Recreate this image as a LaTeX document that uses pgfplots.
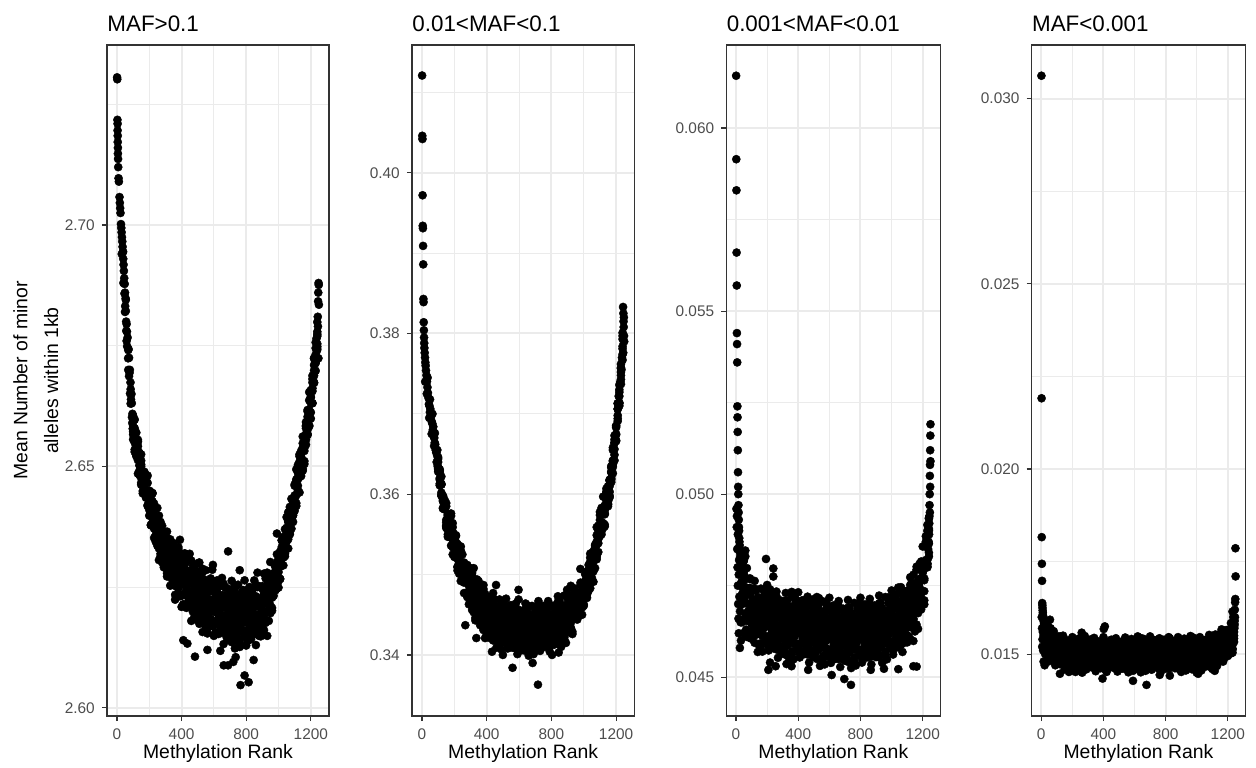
\documentclass[border=0pt]{standalone}
\usepackage{fontspec}
\setmainfont{Liberation Sans}
\usepackage{pgfplots}
\usepackage{pgfplotstable}
\pgfplotsset{compat=1.18}
\definecolor{gg92}{HTML}{EBEBEB}
\definecolor{gg20}{HTML}{333333}
\definecolor{gg30}{HTML}{4D4D4D}

% ---------------- Panel 1: MAF>0.1 ----------------
\pgfplotstableread{
x a b c d e
100 2.6605 2.6566 2.6578 2.6584 2.6572
110 2.6597 2.6530 2.6579 2.6549 2.6567
120 2.6548 2.6521 2.6532 2.6556 2.6524
130 2.6542 2.6485 2.6555 2.6521 2.6533
140 2.6517 2.6502 2.6482 2.6516 2.6502
150 2.6525 2.6466 2.6504 2.6476 2.6512
160 2.6481 2.6444 2.6473 2.6479 2.6467
170 2.6481 2.6456 2.6489 2.6477 2.6467
180 2.6481 2.6435 2.6437 2.6445 2.6469
190 2.6481 2.6418 2.6442 2.6448 2.6420
200 2.6437 2.6398 2.6450 2.6426 2.6438
210 2.6447 2.6416 2.6379 2.6439 2.6409
220 2.6445 2.6383 2.6414 2.6384 2.6428
230 2.6408 2.6352 2.6374 2.6393 2.6371
240 2.6382 2.6350 2.6413 2.6388 2.6377
250 2.6414 2.6357 2.6336 2.6352 2.6383
260 2.6380 2.6306 2.6376 2.6374 2.6330
270 2.6362 2.6314 2.6343 2.6341 2.6368
280 2.6377 2.6324 2.6348 2.6346 2.6326
290 2.6339 2.6291 2.6307 2.6307 2.6338
300 2.6357 2.6304 2.6320 2.6329 2.6312
310 2.6365 2.6272 2.6340 2.6299 2.6323
320 2.6318 2.6281 2.6296 2.6329 2.6285
330 2.6331 2.6253 2.6349 2.6302 2.6319
340 2.6315 2.6294 2.6267 2.6314 2.6295
350 2.6341 2.6259 2.6312 2.6273 2.6323
360 2.6294 2.6224 2.6279 2.6290 2.6268
370 2.6314 2.6268 2.6330 2.6308 2.6289
380 2.6333 2.6247 2.6250 2.6265 2.6310
390 2.6348 2.6231 2.6275 2.6286 2.6234
400 2.6284 2.6209 2.6308 2.6263 2.6285
410 2.6308 2.6265 2.6214 2.6297 2.6256
420 2.6320 2.6235 2.6278 2.6237 2.6297
430 2.6285 2.6207 2.6237 2.6264 2.6234
440 2.6263 2.6219 2.6305 2.6271 2.6256
450 2.6319 2.6241 2.6212 2.6234 2.6276
460 2.6281 2.6180 2.6275 2.6272 2.6212
470 2.6264 2.6199 2.6238 2.6235 2.6272
480 2.6292 2.6220 2.6253 2.6250 2.6223
490 2.6248 2.6183 2.6205 2.6205 2.6247
500 2.6282 2.6209 2.6231 2.6243 2.6220
510 2.6301 2.6174 2.6267 2.6211 2.6244
520 2.6241 2.6191 2.6211 2.6256 2.6196
530 2.6263 2.6157 2.6288 2.6224 2.6247
540 2.6246 2.6217 2.6180 2.6244 2.6218
550 2.6285 2.6173 2.6245 2.6193 2.6261
560 2.6224 2.6154 2.6209 2.6220 2.6198
570 2.6247 2.6201 2.6263 2.6241 2.6222
580 2.6268 2.6182 2.6185 2.6200 2.6245
590 2.6286 2.6169 2.6213 2.6224 2.6172
600 2.6224 2.6149 2.6248 2.6203 2.6225
610 2.6250 2.6207 2.6156 2.6239 2.6198
620 2.6264 2.6179 2.6222 2.6181 2.6241
630 2.6231 2.6153 2.6183 2.6210 2.6180
640 2.6211 2.6167 2.6253 2.6219 2.6204
650 2.6269 2.6191 2.6162 2.6184 2.6226
660 2.6233 2.6132 2.6227 2.6224 2.6164
670 2.6218 2.6153 2.6192 2.6189 2.6226
680 2.6248 2.6176 2.6209 2.6206 2.6179
690 2.6206 2.6141 2.6163 2.6163 2.6205
700 2.6242 2.6169 2.6191 2.6203 2.6180
710 2.6263 2.6136 2.6229 2.6173 2.6206
720 2.6205 2.6155 2.6175 2.6220 2.6160
730 2.6229 2.6123 2.6254 2.6190 2.6213
740 2.6214 2.6185 2.6148 2.6212 2.6186
750 2.6255 2.6143 2.6216 2.6163 2.6231
760 2.6196 2.6126 2.6181 2.6192 2.6170
770 2.6221 2.6175 2.6237 2.6215 2.6196
780 2.6244 2.6158 2.6161 2.6176 2.6221
790 2.6264 2.6147 2.6191 2.6202 2.6150
800 2.6204 2.6129 2.6228 2.6183 2.6205
810 2.6233 2.6190 2.6139 2.6222 2.6181
820 2.6250 2.6165 2.6208 2.6167 2.6227
830 2.6220 2.6142 2.6172 2.6199 2.6169
840 2.6203 2.6159 2.6245 2.6211 2.6196
850 2.6264 2.6186 2.6157 2.6179 2.6221
860 2.6231 2.6130 2.6225 2.6222 2.6162
870 2.6219 2.6154 2.6193 2.6190 2.6227
880 2.6252 2.6180 2.6213 2.6210 2.6183
890 2.6213 2.6148 2.6170 2.6170 2.6212
900 2.6252 2.6179 2.6201 2.6213 2.6190
910 2.6278 2.6152 2.6244 2.6188 2.6221
920 2.6226 2.6176 2.6196 2.6241 2.6181
930 2.6255 2.6149 2.6280 2.6216 2.6239
940 2.6246 2.6217 2.6180 2.6244 2.6218
950 2.6267 2.6200 2.6244 2.6212 2.6253
960 2.6243 2.6201 2.6234 2.6241 2.6228
970 2.6270 2.6242 2.6279 2.6266 2.6254
980 2.6295 2.6243 2.6245 2.6254 2.6281
990 2.6318 2.6247 2.6274 2.6281 2.6249
1000 2.6293 2.6249 2.6308 2.6281 2.6294
1010 2.6324 2.6298 2.6267 2.6317 2.6292
1020 2.6347 2.6296 2.6322 2.6297 2.6333
1030 2.6342 2.6295 2.6313 2.6329 2.6311
1040 2.6345 2.6319 2.6370 2.6350 2.6341
1050 2.6395 2.6348 2.6330 2.6344 2.6369
1060 2.6390 2.6330 2.6387 2.6385 2.6349
1070 2.6398 2.6359 2.6382 2.6380 2.6403
1080 2.6433 2.6390 2.6410 2.6408 2.6392
1090 2.6424 2.6385 2.6399 2.6399 2.6424
1100 2.6463 2.6419 2.6433 2.6440 2.6426
1110 2.6494 2.6418 2.6473 2.6440 2.6460
1120 2.6477 2.6448 2.6460 2.6487 2.6451
1130 2.6510 2.6446 2.6525 2.6487 2.6500
1140 2.6520 2.6502 2.6480 2.6518 2.6503
1150 2.6562 2.6495 2.6539 2.6507 2.6548
1160 2.6547 2.6505 2.6538 2.6545 2.6532
1170 2.6583 2.6555 2.6592 2.6579 2.6567
1180 2.6617 2.6565 2.6567 2.6576 2.6603
1190 2.6654 2.6583 2.6610 2.6617 2.6585
1200 2.6643 2.6599 2.6658 2.6631 2.6644
1210 2.6688 2.6662 2.6631 2.6681 2.6656
1220 2.6724 2.6673 2.6699 2.6674 2.6710
1230 2.6745 2.6698 2.6716 2.6732 2.6714
1240 2.6774 2.6748 2.6799 2.6779 2.6770
}\pOne
\pgfplotstableread{
x f g
100 2.6602 2.6556
110 2.6535 2.6575
120 2.6544 2.6570
130 2.6551 2.6513
140 2.6492 2.6528
150 2.6500 2.6462
160 2.6449 2.6483
170 2.6483 2.6447
180 2.6451 2.6479
190 2.6466 2.6436
200 2.6410 2.6446
210 2.6431 2.6378
220 2.6444 2.6400
230 2.6379 2.6423
240 2.6344 2.6358
250 2.6388 2.6374
260 2.6340 2.6398
270 2.6385 2.6319
280 2.6301 2.6354
290 2.6349 2.6326
300 2.6353 2.6290
310 2.6279 2.6334
320 2.6313 2.6349
330 2.6344 2.6291
340 2.6281 2.6330
350 2.6306 2.6254
360 2.6234 2.6298
370 2.6319 2.6251
380 2.6276 2.6329
390 2.6320 2.6264
400 2.6232 2.6300
410 2.6286 2.6214
420 2.6319 2.6259
430 2.6245 2.6305
440 2.6211 2.6230
450 2.6283 2.6264
460 2.6226 2.6305
470 2.6295 2.6205
480 2.6189 2.6261
490 2.6262 2.6231
500 2.6276 2.6190
510 2.6184 2.6259
520 2.6234 2.6283
530 2.6281 2.6209
540 2.6199 2.6266
550 2.6238 2.6167
560 2.6164 2.6228
570 2.6252 2.6184
580 2.6211 2.6264
590 2.6258 2.6202
600 2.6172 2.6240
610 2.6228 2.6156
620 2.6263 2.6203
630 2.6191 2.6251
640 2.6159 2.6178
650 2.6233 2.6214
660 2.6178 2.6257
670 2.6249 2.6159
680 2.6145 2.6217
690 2.6220 2.6189
700 2.6236 2.6150
710 2.6146 2.6221
720 2.6198 2.6247
730 2.6247 2.6175
740 2.6167 2.6234
750 2.6208 2.6137
760 2.6136 2.6200
770 2.6226 2.6158
780 2.6187 2.6240
790 2.6236 2.6180
800 2.6152 2.6220
810 2.6211 2.6139
820 2.6249 2.6189
830 2.6180 2.6240
840 2.6151 2.6170
850 2.6228 2.6209
860 2.6176 2.6255
870 2.6250 2.6160
880 2.6149 2.6221
890 2.6227 2.6196
900 2.6246 2.6160
910 2.6161 2.6236
920 2.6219 2.6268
930 2.6273 2.6201
940 2.6199 2.6266
950 2.6239 2.6196
960 2.6207 2.6246
970 2.6272 2.6232
980 2.6261 2.6292
990 2.6301 2.6267
1000 2.6262 2.6303
1010 2.6310 2.6267
1020 2.6347 2.6311
1030 2.6318 2.6354
1040 2.6314 2.6325
1050 2.6373 2.6362
1060 2.6357 2.6405
1070 2.6416 2.6362
1080 2.6371 2.6414
1090 2.6433 2.6414
1100 2.6460 2.6408
1110 2.6424 2.6469
1120 2.6473 2.6503
1130 2.6521 2.6478
1140 2.6491 2.6532
1150 2.6534 2.6491
1160 2.6511 2.6550
1170 2.6585 2.6545
1180 2.6583 2.6614
1190 2.6637 2.6603
1200 2.6612 2.6653
1210 2.6674 2.6631
1220 2.6724 2.6688
1230 2.6721 2.6757
1240 2.6743 2.6754
}\pOneB
\pgfplotstableread{
x y
1 2.7306
2 2.7302
3 2.7218
4 2.7210
4 2.7196
5 2.7185
5 2.7172
6 2.7160
6 2.7148
7 2.7137
8 2.7120
10 2.7097
12 2.7090
16 2.7058
18 2.7046
20 2.7035
22 2.7025
25 2.7002
27 2.6994
29 2.6985
31 2.6975
33 2.6966
35 2.6955
37 2.6944
39 2.6930
41 2.6918
43 2.6905
45 2.6890
48 2.6878
51 2.6832
54 2.6848
57 2.6800
60 2.6795
63 2.6749
66 2.6767
69 2.6724
72 2.6743
75 2.6687
78 2.6694
81 2.6651
84 2.6674
87 2.6639
90 2.6650
93 2.6602
96 2.6609
50 2.6860
55 2.6822
62 2.6779
70 2.6741
80 2.6700
92 2.6631
98 2.6578
47 2.6858
58 2.6781
85 2.6660
30 2.6940
40 2.6880
50 2.6820
60 2.6760
70 2.6700
85 2.6630
95 2.6590
38 2.6945
55 2.6845
75 2.6725
1235 2.6765
1238 2.6740
1243 2.6810
1244 2.6790
1245 2.6842
1246 2.6860
1247 2.6724
1248 2.6880
1249 2.6876
1250 2.6835
688 2.6324
765 2.6047
815 2.6053
790 2.6067
688 2.6088
483 2.6106
411 2.6140
436 2.6133
446 2.6310
594 2.6296
990 2.6361
949 2.6302
846 2.6099
661 2.6088
720 2.6095
735 2.6105
560 2.6120
640 2.6118
760 2.6285
870 2.6280
505 2.6300
}\pOneX

% ---------------- Panel 2: 0.01<MAF<0.1 ----------------
\pgfplotstableread{
x a b c d e
100 0.3640 0.3631 0.3646 0.3628 0.3632
110 0.3631 0.3613 0.3611 0.3620 0.3627
120 0.3622 0.3598 0.3612 0.3612 0.3602
130 0.3597 0.3582 0.3592 0.3591 0.3594
140 0.3590 0.3582 0.3591 0.3584 0.3587
150 0.3589 0.3561 0.3560 0.3568 0.3558
160 0.3573 0.3547 0.3565 0.3575 0.3574
170 0.3561 0.3547 0.3572 0.3550 0.3553
180 0.3576 0.3550 0.3536 0.3555 0.3557
190 0.3559 0.3525 0.3553 0.3553 0.3543
200 0.3546 0.3524 0.3532 0.3534 0.3544
210 0.3549 0.3525 0.3548 0.3540 0.3521
220 0.3527 0.3505 0.3510 0.3520 0.3530
230 0.3533 0.3508 0.3526 0.3520 0.3515
240 0.3535 0.3492 0.3509 0.3501 0.3525
250 0.3511 0.3494 0.3511 0.3510 0.3500
260 0.3513 0.3477 0.3490 0.3494 0.3502
270 0.3503 0.3493 0.3495 0.3505 0.3506
280 0.3512 0.3474 0.3502 0.3490 0.3477
290 0.3486 0.3463 0.3479 0.3491 0.3490
300 0.3494 0.3472 0.3508 0.3466 0.3475
310 0.3502 0.3462 0.3456 0.3477 0.3493
320 0.3508 0.3453 0.3485 0.3485 0.3462
330 0.3477 0.3443 0.3466 0.3464 0.3471
340 0.3487 0.3467 0.3489 0.3473 0.3479
350 0.3492 0.3452 0.3451 0.3462 0.3448
360 0.3474 0.3437 0.3462 0.3476 0.3474
370 0.3462 0.3442 0.3477 0.3447 0.3450
380 0.3487 0.3450 0.3431 0.3458 0.3460
390 0.3468 0.3421 0.3460 0.3460 0.3446
400 0.3458 0.3428 0.3439 0.3441 0.3455
410 0.3472 0.3439 0.3472 0.3460 0.3433
420 0.3451 0.3421 0.3428 0.3442 0.3456
430 0.3468 0.3434 0.3458 0.3450 0.3442
440 0.3477 0.3418 0.3441 0.3429 0.3463
450 0.3449 0.3426 0.3449 0.3448 0.3434
460 0.3458 0.3409 0.3426 0.3432 0.3444
470 0.3451 0.3437 0.3439 0.3453 0.3455
480 0.3469 0.3417 0.3456 0.3438 0.3421
490 0.3440 0.3407 0.3429 0.3447 0.3445
500 0.3451 0.3429 0.3465 0.3423 0.3432
510 0.3462 0.3422 0.3416 0.3437 0.3453
520 0.3470 0.3415 0.3447 0.3447 0.3424
530 0.3442 0.3408 0.3431 0.3429 0.3436
540 0.3454 0.3434 0.3456 0.3440 0.3446
550 0.3462 0.3422 0.3421 0.3432 0.3418
560 0.3446 0.3409 0.3434 0.3448 0.3446
570 0.3437 0.3417 0.3452 0.3422 0.3425
580 0.3464 0.3427 0.3408 0.3435 0.3437
590 0.3448 0.3401 0.3440 0.3440 0.3426
600 0.3440 0.3410 0.3421 0.3423 0.3437
610 0.3455 0.3422 0.3455 0.3443 0.3416
620 0.3436 0.3406 0.3413 0.3427 0.3441
630 0.3454 0.3420 0.3444 0.3436 0.3429
640 0.3464 0.3405 0.3428 0.3416 0.3450
650 0.3437 0.3414 0.3437 0.3436 0.3422
660 0.3448 0.3399 0.3416 0.3422 0.3434
670 0.3442 0.3428 0.3430 0.3444 0.3446
680 0.3461 0.3409 0.3448 0.3430 0.3413
690 0.3434 0.3401 0.3423 0.3441 0.3439
700 0.3446 0.3424 0.3460 0.3418 0.3427
710 0.3457 0.3417 0.3411 0.3433 0.3448
720 0.3467 0.3412 0.3444 0.3444 0.3421
730 0.3440 0.3405 0.3428 0.3427 0.3434
740 0.3453 0.3433 0.3455 0.3439 0.3445
750 0.3461 0.3422 0.3421 0.3431 0.3417
760 0.3447 0.3410 0.3435 0.3449 0.3447
770 0.3439 0.3418 0.3453 0.3423 0.3427
780 0.3467 0.3430 0.3411 0.3438 0.3440
790 0.3451 0.3404 0.3444 0.3444 0.3430
800 0.3445 0.3415 0.3426 0.3428 0.3442
810 0.3461 0.3428 0.3461 0.3449 0.3422
820 0.3443 0.3413 0.3420 0.3434 0.3448
830 0.3462 0.3428 0.3452 0.3444 0.3437
840 0.3473 0.3414 0.3438 0.3425 0.3459
850 0.3447 0.3424 0.3447 0.3446 0.3432
860 0.3459 0.3410 0.3427 0.3433 0.3445
870 0.3454 0.3440 0.3442 0.3456 0.3458
880 0.3474 0.3422 0.3461 0.3443 0.3426
890 0.3448 0.3415 0.3437 0.3455 0.3453
900 0.3461 0.3439 0.3475 0.3433 0.3442
910 0.3474 0.3434 0.3428 0.3449 0.3465
920 0.3486 0.3431 0.3463 0.3463 0.3440
930 0.3460 0.3426 0.3449 0.3447 0.3454
940 0.3476 0.3456 0.3478 0.3462 0.3468
950 0.3478 0.3450 0.3449 0.3457 0.3447
960 0.3469 0.3444 0.3461 0.3471 0.3470
970 0.3466 0.3452 0.3477 0.3455 0.3458
980 0.3490 0.3464 0.3450 0.3469 0.3471
990 0.3484 0.3450 0.3478 0.3478 0.3468
1000 0.3485 0.3463 0.3472 0.3473 0.3483
1010 0.3501 0.3477 0.3500 0.3492 0.3473
1020 0.3493 0.3471 0.3476 0.3486 0.3496
1030 0.3512 0.3487 0.3505 0.3499 0.3494
1040 0.3526 0.3483 0.3500 0.3492 0.3516
1050 0.3513 0.3496 0.3513 0.3512 0.3502
1060 0.3527 0.3491 0.3504 0.3508 0.3516
1070 0.3534 0.3524 0.3526 0.3536 0.3537
1080 0.3559 0.3522 0.3549 0.3537 0.3524
1090 0.3551 0.3528 0.3544 0.3556 0.3555
1100 0.3568 0.3552 0.3578 0.3548 0.3554
1110 0.3583 0.3554 0.3550 0.3565 0.3576
1120 0.3597 0.3558 0.3581 0.3581 0.3564
1130 0.3585 0.3560 0.3576 0.3575 0.3580
1140 0.3602 0.3588 0.3603 0.3592 0.3596
1150 0.3610 0.3588 0.3587 0.3593 0.3585
1160 0.3617 0.3596 0.3610 0.3618 0.3617
1170 0.3627 0.3615 0.3635 0.3618 0.3620
1180 0.3658 0.3637 0.3626 0.3641 0.3642
1190 0.3668 0.3642 0.3664 0.3664 0.3656
1200 0.3685 0.3667 0.3674 0.3675 0.3683
1210 0.3713 0.3694 0.3713 0.3706 0.3691
1220 0.3727 0.3710 0.3714 0.3722 0.3730
1230 0.3762 0.3743 0.3757 0.3752 0.3748
1240 0.3801 0.3767 0.3781 0.3774 0.3793
}\pTwo
\pgfplotstableread{
x f g
100 0.3633 0.3644
110 0.3629 0.3618
120 0.3599 0.3613
130 0.3598 0.3583
140 0.3593 0.3581
150 0.3565 0.3585
160 0.3550 0.3556
170 0.3569 0.3563
180 0.3546 0.3573
190 0.3564 0.3534
200 0.3522 0.3546
210 0.3540 0.3529
220 0.3538 0.3509
230 0.3501 0.3526
240 0.3513 0.3530
250 0.3525 0.3501
260 0.3492 0.3515
270 0.3501 0.3477
280 0.3472 0.3494
290 0.3496 0.3474
300 0.3478 0.3503
310 0.3498 0.3472
320 0.3456 0.3488
330 0.3480 0.3446
340 0.3494 0.3466
350 0.3458 0.3486
360 0.3441 0.3450
370 0.3473 0.3464
380 0.3445 0.3482
390 0.3476 0.3434
400 0.3425 0.3459
410 0.3460 0.3445
420 0.3466 0.3426
430 0.3423 0.3458
440 0.3447 0.3470
450 0.3469 0.3435
460 0.3430 0.3461
470 0.3448 0.3415
480 0.3414 0.3444
490 0.3454 0.3422
500 0.3435 0.3460
510 0.3458 0.3432
520 0.3418 0.3450
530 0.3445 0.3411
540 0.3461 0.3433
550 0.3428 0.3456
560 0.3413 0.3422
570 0.3448 0.3439
580 0.3422 0.3459
590 0.3456 0.3414
600 0.3407 0.3441
610 0.3443 0.3428
620 0.3451 0.3411
630 0.3409 0.3444
640 0.3434 0.3457
650 0.3457 0.3423
660 0.3420 0.3451
670 0.3439 0.3406
680 0.3406 0.3436
690 0.3448 0.3416
700 0.3430 0.3455
710 0.3454 0.3428
720 0.3415 0.3447
730 0.3443 0.3409
740 0.3460 0.3432
750 0.3428 0.3456
760 0.3414 0.3423
770 0.3450 0.3441
780 0.3425 0.3462
790 0.3460 0.3418
800 0.3412 0.3446
810 0.3449 0.3434
820 0.3458 0.3418
830 0.3417 0.3452
840 0.3443 0.3466
850 0.3467 0.3433
860 0.3431 0.3462
870 0.3451 0.3418
880 0.3419 0.3449
890 0.3462 0.3430
900 0.3445 0.3470
910 0.3470 0.3444
920 0.3434 0.3466
930 0.3463 0.3429
940 0.3483 0.3455
950 0.3454 0.3474
960 0.3446 0.3452
970 0.3474 0.3468
980 0.3460 0.3487
990 0.3489 0.3459
1000 0.3461 0.3485
1010 0.3492 0.3481
1020 0.3504 0.3475
1030 0.3480 0.3505
1040 0.3504 0.3521
1050 0.3527 0.3503
1060 0.3506 0.3529
1070 0.3532 0.3508
1080 0.3519 0.3541
1090 0.3561 0.3539
1100 0.3557 0.3574
1110 0.3580 0.3561
1120 0.3560 0.3583
1130 0.3586 0.3562
1140 0.3607 0.3587
1150 0.3591 0.3607
1160 0.3598 0.3603
1170 0.3633 0.3628
1180 0.3634 0.3655
1190 0.3673 0.3649
1200 0.3666 0.3685
1210 0.3706 0.3698
1220 0.3736 0.3713
1230 0.3737 0.3757
1240 0.3784 0.3797
}\pTwoB
\pgfplotstableread{
x y
1 0.4121
2 0.4046
3 0.4042
4 0.3972
5 0.3934
6 0.3931
7 0.3909
8 0.3886
9 0.3843
10 0.3839
11 0.3814
12 0.3804
13 0.3795
14 0.3788
15 0.3782
17 0.3776
19 0.3770
21 0.3764
23 0.3760
25 0.3754
28 0.3748
31 0.3740
34 0.3733
37 0.3726
40 0.3720
43 0.3712
46 0.3710
49 0.3702
52 0.3706
55 0.3695
58 0.3700
61 0.3690
64 0.3688
67 0.3680
70 0.3684
73 0.3672
76 0.3670
79 0.3664
82 0.3662
85 0.3655
88 0.3652
91 0.3640
94 0.3648
97 0.3635
20 0.3740
30 0.3725
45 0.3695
60 0.3675
75 0.3660
35 0.3745
50 0.3718
65 0.3700
80 0.3676
95 0.3655
1243 0.3833
1245 0.3825
1246 0.3815
1247 0.3808
1248 0.3820
1249 0.3797
1250 0.3790
1244 0.3776
1236 0.3770
1233 0.3755
1226 0.3740
1216 0.3722
458 0.3487
597 0.3481
597 0.3469
650 0.3462
897 0.3481
979 0.3507
717 0.3363
560 0.3384
684 0.3390
804 0.3400
845 0.3403
336 0.3421
268 0.3437
433 0.3404
500 0.3400
}\pTwoX

% ---------------- Panel 3: 0.001<MAF<0.01 ----------------
\pgfplotstableread{
x a b c d e
40 0.04840 0.04716 0.04800 0.04842 0.04806
50 0.04781 0.04711 0.04830 0.04764 0.04818
60 0.04846 0.04721 0.04656 0.04770 0.04674
70 0.04770 0.04610 0.04744 0.04672 0.04744
80 0.04729 0.04624 0.04664 0.04700 0.04682
90 0.04770 0.04655 0.04768 0.04726 0.04744
100 0.04692 0.04605 0.04625 0.04660 0.04645
110 0.04738 0.04641 0.04711 0.04691 0.04676
120 0.04763 0.04594 0.04662 0.04662 0.04702
130 0.04682 0.04616 0.04683 0.04708 0.04618
140 0.04711 0.04569 0.04619 0.04629 0.04699
150 0.04688 0.04649 0.04655 0.04665 0.04635
160 0.04742 0.04593 0.04704 0.04679 0.04669
170 0.04663 0.04570 0.04633 0.04633 0.04638
180 0.04696 0.04634 0.04737 0.04687 0.04672
190 0.04727 0.04612 0.04596 0.04641 0.04611
200 0.04752 0.04596 0.04685 0.04665 0.04680
210 0.04672 0.04573 0.04639 0.04609 0.04644
220 0.04707 0.04650 0.04712 0.04662 0.04702
230 0.04727 0.04614 0.04611 0.04621 0.04621
240 0.04682 0.04579 0.04649 0.04684 0.04654
250 0.04657 0.04599 0.04698 0.04643 0.04688
260 0.04734 0.04630 0.04576 0.04671 0.04591
270 0.04687 0.04553 0.04665 0.04605 0.04665
280 0.04667 0.04580 0.04613 0.04643 0.04628
290 0.04709 0.04613 0.04707 0.04672 0.04687
300 0.04652 0.04565 0.04585 0.04620 0.04605
310 0.04702 0.04605 0.04675 0.04655 0.04640
320 0.04730 0.04561 0.04629 0.04629 0.04669
330 0.04653 0.04587 0.04654 0.04679 0.04589
340 0.04685 0.04543 0.04593 0.04603 0.04673
350 0.04666 0.04627 0.04633 0.04643 0.04613
360 0.04720 0.04571 0.04682 0.04657 0.04647
370 0.04642 0.04549 0.04612 0.04612 0.04617
380 0.04675 0.04613 0.04716 0.04666 0.04651
390 0.04707 0.04592 0.04576 0.04621 0.04591
400 0.04732 0.04576 0.04665 0.04645 0.04660
410 0.04653 0.04554 0.04620 0.04590 0.04625
420 0.04689 0.04632 0.04694 0.04644 0.04684
430 0.04710 0.04597 0.04594 0.04604 0.04604
440 0.04666 0.04563 0.04633 0.04668 0.04638
450 0.04642 0.04584 0.04683 0.04628 0.04673
460 0.04720 0.04616 0.04562 0.04657 0.04577
470 0.04674 0.04540 0.04652 0.04592 0.04652
480 0.04655 0.04568 0.04601 0.04631 0.04616
490 0.04698 0.04602 0.04696 0.04661 0.04676
500 0.04642 0.04555 0.04575 0.04610 0.04595
510 0.04691 0.04594 0.04664 0.04644 0.04629
520 0.04719 0.04550 0.04618 0.04618 0.04658
530 0.04641 0.04575 0.04642 0.04667 0.04577
540 0.04673 0.04531 0.04581 0.04591 0.04661
550 0.04653 0.04614 0.04620 0.04630 0.04600
560 0.04707 0.04558 0.04669 0.04644 0.04634
570 0.04628 0.04535 0.04598 0.04598 0.04603
580 0.04661 0.04599 0.04702 0.04652 0.04637
590 0.04692 0.04577 0.04561 0.04606 0.04576
600 0.04717 0.04561 0.04650 0.04630 0.04645
610 0.04638 0.04539 0.04605 0.04575 0.04610
620 0.04675 0.04618 0.04680 0.04630 0.04670
630 0.04696 0.04583 0.04580 0.04590 0.04590
640 0.04653 0.04550 0.04620 0.04655 0.04625
650 0.04629 0.04571 0.04670 0.04615 0.04660
660 0.04708 0.04604 0.04550 0.04645 0.04565
670 0.04662 0.04528 0.04640 0.04580 0.04640
680 0.04644 0.04557 0.04590 0.04620 0.04605
690 0.04687 0.04591 0.04685 0.04650 0.04665
700 0.04632 0.04545 0.04565 0.04600 0.04585
710 0.04682 0.04585 0.04655 0.04635 0.04620
720 0.04711 0.04542 0.04610 0.04610 0.04650
730 0.04634 0.04568 0.04635 0.04660 0.04570
740 0.04667 0.04525 0.04575 0.04585 0.04655
750 0.04648 0.04609 0.04615 0.04625 0.04595
760 0.04703 0.04554 0.04665 0.04640 0.04630
770 0.04625 0.04532 0.04595 0.04595 0.04600
780 0.04659 0.04597 0.04700 0.04650 0.04635
790 0.04691 0.04576 0.04560 0.04605 0.04575
800 0.04717 0.04561 0.04650 0.04630 0.04645
810 0.04639 0.04540 0.04606 0.04576 0.04611
820 0.04677 0.04620 0.04682 0.04632 0.04672
830 0.04699 0.04586 0.04583 0.04593 0.04593
840 0.04657 0.04554 0.04624 0.04659 0.04629
850 0.04634 0.04576 0.04675 0.04620 0.04665
860 0.04714 0.04610 0.04556 0.04651 0.04571
870 0.04669 0.04535 0.04647 0.04587 0.04647
880 0.04652 0.04565 0.04598 0.04628 0.04613
890 0.04696 0.04600 0.04694 0.04659 0.04674
900 0.04642 0.04555 0.04575 0.04610 0.04595
910 0.04693 0.04596 0.04666 0.04646 0.04631
920 0.04723 0.04554 0.04622 0.04622 0.04662
930 0.04647 0.04581 0.04648 0.04673 0.04583
940 0.04681 0.04539 0.04589 0.04599 0.04669
950 0.04663 0.04624 0.04630 0.04640 0.04610
960 0.04719 0.04570 0.04681 0.04656 0.04646
970 0.04642 0.04549 0.04612 0.04612 0.04617
980 0.04677 0.04615 0.04718 0.04668 0.04653
990 0.04710 0.04595 0.04579 0.04624 0.04594
1000 0.04737 0.04581 0.04670 0.04650 0.04665
1010 0.04661 0.04562 0.04628 0.04598 0.04633
1020 0.04701 0.04644 0.04706 0.04656 0.04696
1030 0.04725 0.04612 0.04609 0.04619 0.04619
1040 0.04685 0.04582 0.04652 0.04687 0.04657
1050 0.04664 0.04606 0.04705 0.04650 0.04695
1060 0.04746 0.04642 0.04588 0.04683 0.04603
1070 0.04703 0.04569 0.04681 0.04621 0.04681
1080 0.04688 0.04601 0.04634 0.04664 0.04649
1090 0.04734 0.04638 0.04732 0.04697 0.04712
1100 0.04682 0.04595 0.04615 0.04650 0.04635
1110 0.04738 0.04641 0.04711 0.04691 0.04676
1120 0.04773 0.04604 0.04672 0.04672 0.04712
1130 0.04702 0.04636 0.04703 0.04728 0.04638
1140 0.04741 0.04599 0.04649 0.04659 0.04729
1150 0.04728 0.04689 0.04695 0.04705 0.04675
1160 0.04793 0.04644 0.04755 0.04730 0.04720
1170 0.04725 0.04632 0.04695 0.04695 0.04700
1180 0.04769 0.04707 0.04810 0.04760 0.04745
1190 0.04816 0.04701 0.04685 0.04730 0.04700
1200 0.04857 0.04701 0.04790 0.04770 0.04785
1210 0.04798 0.04699 0.04765 0.04735 0.04770
1220 0.04865 0.04808 0.04870 0.04820 0.04860
1230 0.04916 0.04803 0.04800 0.04810 0.04810
1240 0.04933 0.04830 0.04900 0.04935 0.04905
}\pThree
\pgfplotstableread{
x f g
40 0.04728 0.04758
50 0.04818 0.04788
60 0.04704 0.04830
70 0.04798 0.04654
80 0.04616 0.04730
90 0.04726 0.04678
100 0.04735 0.04620
110 0.04611 0.04711
120 0.04677 0.04742
130 0.04738 0.04643
140 0.04629 0.04719
150 0.04680 0.04585
160 0.04584 0.04669
170 0.04703 0.04613
180 0.04652 0.04722
190 0.04716 0.04641
200 0.04605 0.04695
210 0.04679 0.04584
220 0.04727 0.04647
230 0.04631 0.04711
240 0.04589 0.04614
250 0.04688 0.04663
260 0.04616 0.04721
270 0.04710 0.04590
280 0.04573 0.04668
290 0.04672 0.04632
300 0.04695 0.04580
310 0.04575 0.04675
320 0.04644 0.04709
330 0.04709 0.04614
340 0.04603 0.04693
350 0.04658 0.04563
360 0.04562 0.04647
370 0.04682 0.04592
380 0.04631 0.04701
390 0.04696 0.04621
400 0.04585 0.04675
410 0.04660 0.04565
420 0.04709 0.04629
430 0.04614 0.04694
440 0.04573 0.04598
450 0.04673 0.04648
460 0.04602 0.04707
470 0.04697 0.04577
480 0.04561 0.04656
490 0.04661 0.04621
500 0.04685 0.04570
510 0.04564 0.04664
520 0.04633 0.04698
530 0.04697 0.04602
540 0.04591 0.04681
550 0.04645 0.04550
560 0.04549 0.04634
570 0.04668 0.04578
580 0.04617 0.04687
590 0.04681 0.04606
600 0.04570 0.04660
610 0.04645 0.04550
620 0.04695 0.04615
630 0.04600 0.04680
640 0.04560 0.04585
650 0.04660 0.04635
660 0.04590 0.04695
670 0.04685 0.04565
680 0.04550 0.04645
690 0.04650 0.04610
700 0.04675 0.04560
710 0.04555 0.04655
720 0.04625 0.04690
730 0.04690 0.04595
740 0.04585 0.04675
750 0.04640 0.04545
760 0.04545 0.04630
770 0.04665 0.04575
780 0.04615 0.04685
790 0.04680 0.04605
800 0.04570 0.04660
810 0.04646 0.04551
820 0.04697 0.04617
830 0.04603 0.04683
840 0.04564 0.04589
850 0.04665 0.04640
860 0.04596 0.04701
870 0.04692 0.04572
880 0.04558 0.04653
890 0.04659 0.04619
900 0.04685 0.04570
910 0.04566 0.04666
920 0.04637 0.04702
930 0.04703 0.04608
940 0.04599 0.04689
950 0.04655 0.04560
960 0.04561 0.04646
970 0.04682 0.04592
980 0.04633 0.04703
990 0.04699 0.04624
1000 0.04590 0.04680
1010 0.04668 0.04573
1020 0.04721 0.04641
1030 0.04629 0.04709
1040 0.04592 0.04617
1050 0.04695 0.04670
1060 0.04628 0.04733
1070 0.04726 0.04606
1080 0.04594 0.04689
1090 0.04697 0.04657
1100 0.04725 0.04610
1110 0.04611 0.04711
1120 0.04687 0.04752
1130 0.04758 0.04663
1140 0.04659 0.04749
1150 0.04720 0.04625
1160 0.04635 0.04720
1170 0.04765 0.04675
1180 0.04725 0.04795
1190 0.04805 0.04730
1200 0.04710 0.04800
1210 0.04805 0.04710
1220 0.04885 0.04805
1230 0.04820 0.04900
1240 0.04840 0.04865
}\pThreeB
\pgfplotstableread{
x y
1 0.06143
2 0.05915
3 0.05830
4 0.05660
5 0.05570
6 0.05440
7 0.05410
8 0.05360
9 0.05240
10 0.05210
11 0.05170
12 0.05120
13 0.05060
14 0.05020
15 0.05000
16 0.04970
17 0.04950
18 0.04930
19 0.04910
20 0.04900
21 0.04880
22 0.04870
24 0.04860
26 0.04840
28 0.04830
30 0.04820
32 0.04810
34 0.04830
36 0.04790
38 0.04840
18 0.04780
22 0.04720
26 0.04680
30 0.04650
34 0.04700
20 0.04820
28 0.04750
45 0.04620
55 0.04660
65 0.04630
75 0.04670
24 0.04800
85 0.04608
3 0.04960
5 0.04910
8 0.04850
10 0.04800
12 0.04750
14 0.04700
16 0.04660
18 0.04620
25 0.04580
32 0.04600
38 0.04650
42 0.04700
48 0.04740
35 0.04760
12 0.04890
6 0.04940
1250 0.05191
1249 0.05160
1248 0.05120
1247 0.05080
1246 0.05050
1245 0.05000
1244 0.04970
1243 0.04940
1242 0.04920
1241 0.04890
1238 0.04870
1235 0.04850
1248 0.05020
1250 0.05090
1246 0.04950
193 0.04823
240 0.04797
240 0.04775
219 0.04740
358 0.04733
497 0.04713
533 0.04716
786 0.04702
1043 0.04745
1070 0.04710
739 0.04479
696 0.04495
615 0.04506
208 0.04520
219 0.04540
255 0.04530
1043 0.04522
1161 0.04529
1140 0.04530
1161 0.04802
1140 0.04780
325 0.04536
357 0.04530
464 0.04520
866 0.04520
951 0.04523
}\pThreeX

% ---------------- Panel 4: MAF<0.001 ----------------
\pgfplotstableread{
x a b c d e
40 0.01577 0.01502 0.01507 0.01543 0.01548
50 0.01528 0.01481 0.01543 0.01520 0.01520
60 0.01540 0.01508 0.01515 0.01540 0.01545
70 0.01552 0.01494 0.01524 0.01498 0.01501
80 0.01562 0.01483 0.01490 0.01516 0.01516
90 0.01520 0.01470 0.01508 0.01521 0.01531
100 0.01538 0.01509 0.01533 0.01497 0.01482
110 0.01547 0.01490 0.01496 0.01524 0.01519
120 0.01525 0.01473 0.01548 0.01500 0.01500
130 0.01512 0.01482 0.01477 0.01512 0.01530
140 0.01550 0.01498 0.01521 0.01483 0.01488
150 0.01526 0.01459 0.01497 0.01510 0.01505
160 0.01516 0.01472 0.01534 0.01489 0.01519
170 0.01537 0.01488 0.01483 0.01521 0.01478
180 0.01508 0.01464 0.01502 0.01499 0.01520
190 0.01532 0.01483 0.01526 0.01514 0.01488
200 0.01546 0.01461 0.01465 0.01480 0.01505
210 0.01507 0.01474 0.01510 0.01500 0.01490
220 0.01524 0.01452 0.01485 0.01515 0.01508
230 0.01514 0.01494 0.01533 0.01490 0.01477
240 0.01542 0.01467 0.01472 0.01508 0.01513
250 0.01503 0.01456 0.01518 0.01495 0.01495
260 0.01520 0.01488 0.01495 0.01520 0.01525
270 0.01536 0.01478 0.01508 0.01482 0.01485
280 0.01549 0.01470 0.01477 0.01503 0.01503
290 0.01509 0.01459 0.01497 0.01510 0.01520
300 0.01528 0.01499 0.01523 0.01487 0.01472
310 0.01538 0.01481 0.01487 0.01515 0.01510
320 0.01517 0.01465 0.01540 0.01492 0.01492
330 0.01505 0.01475 0.01470 0.01505 0.01523
340 0.01544 0.01492 0.01515 0.01477 0.01482
350 0.01521 0.01454 0.01492 0.01505 0.01500
360 0.01512 0.01468 0.01530 0.01485 0.01515
370 0.01534 0.01485 0.01480 0.01518 0.01475
380 0.01506 0.01462 0.01500 0.01497 0.01518
390 0.01531 0.01482 0.01525 0.01513 0.01487
400 0.01546 0.01461 0.01465 0.01480 0.01505
410 0.01507 0.01474 0.01510 0.01500 0.01490
420 0.01524 0.01452 0.01485 0.01515 0.01508
430 0.01514 0.01494 0.01533 0.01490 0.01477
440 0.01527 0.01498 0.01486 0.01512 0.01481
450 0.01537 0.01480 0.01539 0.01479 0.01499
460 0.01516 0.01464 0.01469 0.01499 0.01514
470 0.01504 0.01474 0.01514 0.01514 0.01474
480 0.01543 0.01491 0.01491 0.01489 0.01517
490 0.01520 0.01453 0.01529 0.01507 0.01486
500 0.01511 0.01467 0.01479 0.01494 0.01504
510 0.01533 0.01484 0.01499 0.01519 0.01489
520 0.01505 0.01461 0.01524 0.01481 0.01507
530 0.01530 0.01481 0.01464 0.01502 0.01476
540 0.01545 0.01460 0.01509 0.01509 0.01512
550 0.01506 0.01473 0.01484 0.01486 0.01494
560 0.01523 0.01451 0.01532 0.01514 0.01524
570 0.01513 0.01493 0.01471 0.01491 0.01484
580 0.01541 0.01466 0.01517 0.01504 0.01502
590 0.01502 0.01455 0.01494 0.01476 0.01519
600 0.01519 0.01487 0.01507 0.01504 0.01471
610 0.01535 0.01477 0.01476 0.01484 0.01509
620 0.01548 0.01469 0.01496 0.01517 0.01491
630 0.01508 0.01458 0.01522 0.01496 0.01522
640 0.01523 0.01451 0.01479 0.01519 0.01484
650 0.01513 0.01493 0.01499 0.01481 0.01502
660 0.01541 0.01466 0.01524 0.01502 0.01519
670 0.01502 0.01455 0.01464 0.01509 0.01471
680 0.01519 0.01487 0.01509 0.01486 0.01509
690 0.01535 0.01477 0.01484 0.01514 0.01491
700 0.01548 0.01469 0.01532 0.01491 0.01522
710 0.01508 0.01458 0.01471 0.01504 0.01481
720 0.01527 0.01498 0.01517 0.01476 0.01499
730 0.01537 0.01480 0.01494 0.01504 0.01514
740 0.01516 0.01464 0.01507 0.01484 0.01474
750 0.01504 0.01474 0.01476 0.01517 0.01517
760 0.01543 0.01491 0.01496 0.01496 0.01486
770 0.01520 0.01453 0.01522 0.01512 0.01504
780 0.01511 0.01467 0.01486 0.01479 0.01489
790 0.01533 0.01484 0.01539 0.01499 0.01507
800 0.01505 0.01461 0.01469 0.01514 0.01476
810 0.01531 0.01482 0.01515 0.01490 0.01513
820 0.01546 0.01461 0.01492 0.01508 0.01495
830 0.01507 0.01474 0.01530 0.01495 0.01525
840 0.01512 0.01468 0.01510 0.01485 0.01518
850 0.01534 0.01485 0.01485 0.01518 0.01487
860 0.01506 0.01462 0.01533 0.01497 0.01505
870 0.01531 0.01482 0.01472 0.01513 0.01490
880 0.01546 0.01461 0.01518 0.01480 0.01508
890 0.01507 0.01474 0.01495 0.01500 0.01477
900 0.01524 0.01452 0.01508 0.01515 0.01513
910 0.01514 0.01494 0.01477 0.01490 0.01495
920 0.01542 0.01467 0.01497 0.01508 0.01525
930 0.01503 0.01456 0.01523 0.01495 0.01485
940 0.01520 0.01488 0.01487 0.01520 0.01503
950 0.01536 0.01478 0.01540 0.01482 0.01520
960 0.01549 0.01470 0.01470 0.01503 0.01472
970 0.01509 0.01459 0.01515 0.01510 0.01510
980 0.01528 0.01499 0.01492 0.01487 0.01492
990 0.01538 0.01481 0.01530 0.01515 0.01523
1000 0.01517 0.01465 0.01480 0.01492 0.01482
1010 0.01506 0.01476 0.01501 0.01506 0.01501
1020 0.01546 0.01494 0.01527 0.01479 0.01517
1030 0.01523 0.01456 0.01467 0.01507 0.01477
1040 0.01515 0.01471 0.01513 0.01488 0.01521
1050 0.01538 0.01489 0.01489 0.01522 0.01491
1060 0.01511 0.01467 0.01538 0.01502 0.01510
1070 0.01537 0.01488 0.01478 0.01519 0.01496
1080 0.01552 0.01467 0.01524 0.01486 0.01514
1090 0.01514 0.01481 0.01502 0.01507 0.01484
1100 0.01532 0.01460 0.01516 0.01523 0.01521
1110 0.01523 0.01503 0.01486 0.01499 0.01504
1120 0.01553 0.01478 0.01508 0.01519 0.01536
1130 0.01515 0.01468 0.01535 0.01507 0.01497
1140 0.01534 0.01502 0.01501 0.01534 0.01517
1150 0.01551 0.01493 0.01555 0.01497 0.01535
1160 0.01567 0.01488 0.01488 0.01521 0.01490
1170 0.01530 0.01480 0.01536 0.01531 0.01531
1180 0.01552 0.01523 0.01516 0.01511 0.01516
1190 0.01565 0.01508 0.01557 0.01542 0.01550
1200 0.01547 0.01495 0.01510 0.01522 0.01512
1210 0.01540 0.01510 0.01535 0.01540 0.01535
1220 0.01584 0.01532 0.01565 0.01517 0.01555
1230 0.01571 0.01504 0.01515 0.01555 0.01525
1240 0.01577 0.01533 0.01575 0.01550 0.01583
}\pFour
\pgfplotstableread{
x f g
40 0.01497 0.01540
50 0.01548 0.01502
60 0.01517 0.01553
70 0.01546 0.01508
80 0.01488 0.01533
90 0.01524 0.01476
100 0.01548 0.01507
110 0.01499 0.01539
120 0.01478 0.01490
130 0.01527 0.01515
140 0.01491 0.01544
150 0.01538 0.01477
160 0.01469 0.01517
170 0.01518 0.01498
180 0.01530 0.01472
190 0.01468 0.01519
200 0.01503 0.01535
210 0.01535 0.01487
220 0.01482 0.01528
230 0.01510 0.01462
240 0.01462 0.01505
250 0.01523 0.01477
260 0.01497 0.01533
270 0.01530 0.01492
280 0.01475 0.01520
290 0.01513 0.01465
300 0.01538 0.01497
310 0.01490 0.01530
320 0.01470 0.01482
330 0.01520 0.01508
340 0.01485 0.01538
350 0.01533 0.01472
360 0.01465 0.01513
370 0.01515 0.01495
380 0.01528 0.01470
390 0.01467 0.01518
400 0.01503 0.01535
410 0.01535 0.01487
420 0.01482 0.01528
430 0.01510 0.01462
440 0.01466 0.01517
450 0.01502 0.01534
460 0.01534 0.01486
470 0.01481 0.01527
480 0.01509 0.01461
490 0.01461 0.01504
500 0.01522 0.01476
510 0.01496 0.01532
520 0.01529 0.01491
530 0.01474 0.01519
540 0.01512 0.01464
550 0.01537 0.01496
560 0.01489 0.01529
570 0.01469 0.01481
580 0.01519 0.01507
590 0.01484 0.01537
600 0.01532 0.01471
610 0.01464 0.01512
620 0.01514 0.01494
630 0.01527 0.01469
640 0.01489 0.01529
650 0.01469 0.01481
660 0.01519 0.01507
670 0.01484 0.01537
680 0.01532 0.01471
690 0.01464 0.01512
700 0.01514 0.01494
710 0.01527 0.01469
720 0.01466 0.01517
730 0.01502 0.01534
740 0.01534 0.01486
750 0.01481 0.01527
760 0.01509 0.01461
770 0.01461 0.01504
780 0.01522 0.01476
790 0.01496 0.01532
800 0.01529 0.01491
810 0.01475 0.01520
820 0.01513 0.01465
830 0.01538 0.01497
840 0.01523 0.01477
850 0.01497 0.01533
860 0.01530 0.01492
870 0.01475 0.01520
880 0.01513 0.01465
890 0.01538 0.01497
900 0.01490 0.01530
910 0.01470 0.01482
920 0.01520 0.01508
930 0.01485 0.01538
940 0.01533 0.01472
950 0.01465 0.01513
960 0.01515 0.01495
970 0.01528 0.01470
980 0.01467 0.01518
990 0.01503 0.01535
1000 0.01535 0.01487
1010 0.01483 0.01529
1020 0.01512 0.01464
1030 0.01464 0.01507
1040 0.01526 0.01480
1050 0.01501 0.01537
1060 0.01535 0.01497
1070 0.01481 0.01526
1080 0.01519 0.01471
1090 0.01545 0.01504
1100 0.01498 0.01538
1110 0.01479 0.01491
1120 0.01531 0.01519
1130 0.01497 0.01550
1140 0.01547 0.01486
1150 0.01480 0.01528
1160 0.01533 0.01513
1170 0.01549 0.01491
1180 0.01491 0.01542
1190 0.01530 0.01562
1200 0.01565 0.01517
1210 0.01517 0.01563
1220 0.01550 0.01502
1230 0.01512 0.01555
1240 0.01588 0.01542
}\pFourB
\pgfplotstableread{
x y
1 0.03062
2 0.02191
3 0.01816
4 0.01744
5 0.01698
6 0.01638
7 0.01632
8 0.01625
9 0.01618
10 0.01612
11 0.01605
12 0.01600
14 0.01594
16 0.01588
18 0.01582
20 0.01578
23 0.01574
26 0.01570
30 0.01566
35 0.01560
40 0.01560
45 0.01575
56 0.01593
50 0.01565
60 0.01570
20 0.01520
25 0.01500
30 0.01480
35 0.01530
15 0.01550
10 0.01560
28 0.01540
3 0.01600
5 0.01570
8 0.01540
12 0.01510
15 0.01480
22 0.01470
6 0.01520
18 0.01560
1249 0.01786
1250 0.01710
1248 0.01649
1247 0.01640
1230 0.01615
1245 0.01620
1246 0.01600
1244 0.01590
1243 0.01580
1242 0.01570
1238 0.01580
1235 0.01600
1240 0.01560
409 0.01575
402 0.01568
260 0.01558
120 0.01447
394 0.01434
677 0.01417
590 0.01428
827 0.01543
1000 0.01450
762 0.01444
827 0.01442
1009 0.01447
1116 0.01455
263 0.01450
178 0.01452
645 0.01543
720 0.01539
977 0.01545
}\pFourX

\pgfplotsset{
  /pgf/number format/assume math mode=true,
  /pgf/number format/1000 sep={},
  ggpanel/.style={
    scale only axis,
    height=335.5pt,
    xmin=-61.5, xmax=1312.5,
    xtick={0,400,800,1200},
    minor xtick={200,600,1000},
    grid=both,
    major grid style={draw=gg92, line width=1pt},
    minor grid style={draw=gg92, line width=0.5pt},
    axis line style={draw=gg20, line width=0.7pt},
    tick pos=left,
    tick align=outside,
    major tick length=2.6pt,
    minor tick length=0pt,
    major tick style={draw=gg20, line width=0.6pt},
    ticklabel style={font=\fontsize{7.7}{9}\selectfont, text=gg30},
    scaled y ticks=false,
    xlabel={Methylation Rank},
    xlabel style={font=\fontsize{9.7}{11}\selectfont, text=black, yshift=4pt},
    title style={at={(axis description cs:0,1)}, anchor=base west, yshift=0.5pt,
                 inner sep=0pt, font=\fontsize{11.2}{13}\selectfont, text=black},
  },
  pts/.style={only marks, mark=*, mark size=2.05pt, draw=black, fill=black,
              mark options={draw=black, fill=black, line width=0.2pt}},
}

\newcommand{\allpts}[3]{%
  \addplot[pts] table[x=x,y=a]{#1};
  \addplot[pts] table[x=x,y=b]{#1};
  \addplot[pts] table[x=x,y=c]{#1};
  \addplot[pts] table[x=x,y=d]{#1};
  \addplot[pts] table[x=x,y=e]{#1};
  \addplot[pts] table[x=x,y=f]{#2};
  \addplot[pts] table[x=x,y=g]{#2};
  \addplot[pts] table[x=x,y=y]{#3};
}

\begin{document}
\begin{tikzpicture}
\useasboundingbox (0,0) rectangle (628pt,383.5pt);

% Panel 1
\begin{axis}[ggpanel, at={(53.5pt,25.5pt)}, anchor=south west, width=111pt,
  ymin=2.5983, ymax=2.7373,
  ytick={2.60,2.65,2.70}, minor ytick={2.625,2.675,2.725},
  yticklabel style={/pgf/number format/fixed, /pgf/number format/fixed zerofill, /pgf/number format/precision=2},
  title={MAF>0.1}]
\allpts{\pOne}{\pOneB}{\pOneX}
\end{axis}

% Panel 2
\begin{axis}[ggpanel, at={(206pt,25.5pt)}, anchor=south west, width=111.15pt,
  ymin=0.3324, ymax=0.4159,
  ytick={0.34,0.36,0.38,0.40}, minor ytick={0.33,0.35,0.37,0.39,0.41},
  yticklabel style={/pgf/number format/fixed, /pgf/number format/fixed zerofill, /pgf/number format/precision=2},
  title={0.01<MAF<0.1}]
\allpts{\pTwo}{\pTwoB}{\pTwoX}
\end{axis}

% Panel 3
\begin{axis}[ggpanel, at={(363.2pt,25.5pt)}, anchor=south west, width=106.9pt,
  ymin=0.04394, ymax=0.06227,
  ytick={0.045,0.050,0.055,0.060}, minor ytick={0.0475,0.0525,0.0575},
  yticklabel style={/pgf/number format/fixed, /pgf/number format/fixed zerofill, /pgf/number format/precision=3},
  title={0.001<MAF<0.01}]
\allpts{\pThree}{\pThreeB}{\pThreeX}
\end{axis}

% Panel 4
\begin{axis}[ggpanel, at={(515.85pt,25.5pt)}, anchor=south west, width=106.8pt,
  ymin=0.01333, ymax=0.03145,
  ytick={0.015,0.020,0.025,0.030}, minor ytick={0.0175,0.0225,0.0275},
  yticklabel style={/pgf/number format/fixed, /pgf/number format/fixed zerofill, /pgf/number format/precision=3},
  title={MAF<0.001}]
\allpts{\pFour}{\pFourB}{\pFourX}
\end{axis}

\node[rotate=90, align=center, font=\fontsize{9.7}{15.3}\selectfont, anchor=center]
  at (17.9pt,193.25pt) {Mean Number of minor\\alleles within 1kb};
\end{tikzpicture}
\end{document}
